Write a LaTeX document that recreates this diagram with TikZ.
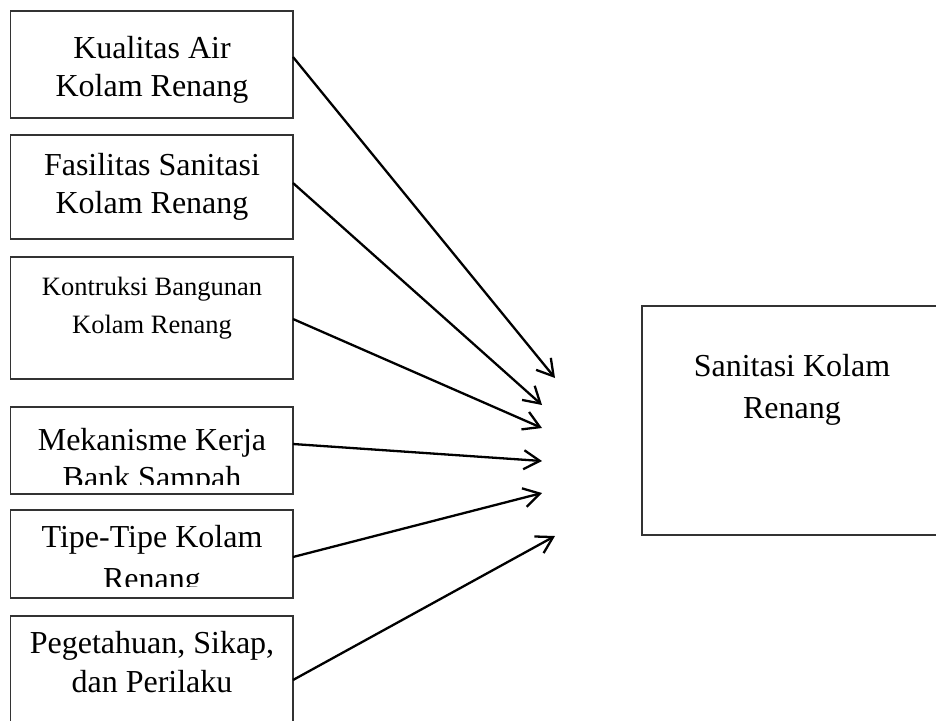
\documentclass[tikz,border=0pt]{standalone}
\usepackage{fontspec}
\setmainfont{Liberation Serif}
\usetikzlibrary{arrows.meta}
\begin{document}
\begin{tikzpicture}[x=1pt,y=-1pt,
  box/.style={draw=black!80, line width=1.3pt, inner sep=0pt, outer sep=0pt},
  lbl/.style={inner sep=0pt, anchor=base, font=\fontsize{32}{38}\selectfont},
  slbl/.style={inner sep=0pt, anchor=base, font=\fontsize{26.5}{33}\selectfont},
  arr/.style={line width=2.3pt, -{Straight Barb[length=16pt,width=19pt]}}]
\useasboundingbox (0,0) rectangle (936,720);
% boxes
\node[box, minimum width=282.3pt, minimum height=107pt] (b1) at (151.85,64.5) {};
\node[box, minimum width=282.3pt, minimum height=104pt] (b2) at (151.85,187) {};
\node[box, minimum width=282.3pt, minimum height=122pt] (b3) at (151.85,318) {};
\node[box, minimum width=282.3pt, minimum height=87pt] (b4) at (151.85,450.5) {};
\node[box, minimum width=282.3pt, minimum height=88pt] (b5) at (151.85,554) {};
\node[box, minimum width=282.3pt, minimum height=109pt] (b6) at (151.85,670.5) {};
\node[box, minimum width=300pt, minimum height=229pt] (r) at (792,420.5) {};
% texts
\node[lbl] (t1a) at (152,58) {Kualitas Air};
\node[lbl] (t1b) at (152,96) {Kolam Renang};
\node[lbl] (t2a) at (152,175) {Fasilitas Sanitasi};
\node[lbl] (t2b) at (152,213) {Kolam Renang};
\node[slbl] (t3a) at (152,295) {Kontruksi Bangunan};
\node[slbl] (t3b) at (152,333) {Kolam Renang};
\node[lbl] (t4a) at (152,450) {Mekanisme Kerja};
\begin{scope}
\clip (0,407) rectangle (300,484);
\node[lbl] (t4b) at (152,488) {Bank Sampah};
\end{scope}
\node[lbl] (t5a) at (152,547) {Tipe-Tipe Kolam};
\begin{scope}
\clip (0,510) rectangle (300,586);
\node[lbl] (t5b) at (152,589) {Renang};
\end{scope}
\node[lbl] (t6a) at (152,653) {Pegetahuan, Sikap,};
\node[lbl] (t6b) at (152,692) {dan Perilaku};
\node[lbl] (tra) at (792,376) {Sanitasi Kolam};
\node[lbl] (trb) at (792,418) {Renang};
% arrow tips
\coordinate (p1) at (555,378);
\coordinate (p2) at (542,405);
\coordinate (p3) at (542,428);
\coordinate (p4) at (542,461);
\coordinate (p5) at (542,493);
\coordinate (p6) at (555,536);
% arrows
\draw[arr] ([yshift=7.5pt]b1.east) -- (p1);
\draw[arr] ([yshift=4pt]b2.east) -- (p2);
\draw[arr] ([yshift=-1pt]b3.east) -- (p3);
\draw[arr] ([yshift=6.5pt]b4.east) -- (p4);
\draw[arr] ([yshift=-3pt]b5.east) -- (p5);
\draw[arr] ([yshift=-9.5pt]b6.east) -- (p6);
\end{tikzpicture}
\end{document}
